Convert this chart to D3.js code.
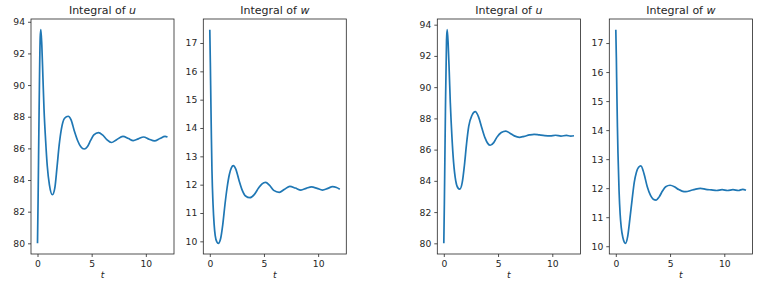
<!DOCTYPE html>
<html>
<head>
<meta charset="utf-8">
<script src="https://cdn.jsdelivr.net/npm/d3@7"></script>
<style>
  html, body { margin: 0; padding: 0; background: #fff; }
  svg { display: block; }
  text { font-family: "DejaVu Sans", sans-serif; fill: #262626; }
</style>
</head>
<body>
<svg id="chart" width="761" height="283"></svg>
<script>
// ---- Data ----
const tU1 = [0, 0.05, 0.15, 0.25, 0.31, 0.4, 0.5, 0.6, 0.75, 0.9, 1.1, 1.38, 1.6, 1.8, 2.0, 2.2, 2.5, 2.83, 3.1, 3.4, 3.7, 4.0, 4.31, 4.6, 4.9, 5.2, 5.63, 6.0, 6.4, 6.82, 7.3, 7.89, 8.4, 8.84, 9.3, 9.79, 10.3, 10.8, 11.3, 11.77, 12.0];
const u1  = [80, 82.5, 88.5, 93.0, 93.5, 92.5, 90.5, 88.5, 86.5, 84.9, 83.7, 83.07, 83.5, 84.8, 86.2, 87.2, 87.9, 88.03, 87.8, 87.1, 86.5, 86.1, 85.96, 86.1, 86.5, 86.85, 87.0, 86.85, 86.55, 86.37, 86.55, 86.76, 86.62, 86.49, 86.6, 86.72, 86.58, 86.47, 86.62, 86.76, 86.72];

const tW1 = [0, 0.05, 0.1, 0.15, 0.2, 0.3, 0.4, 0.5, 0.65, 0.79, 1.0, 1.2, 1.4, 1.6, 1.8, 2.0, 2.17, 2.4, 2.7, 3.0, 3.3, 3.71, 4.1, 4.5, 4.8, 5.16, 5.5, 5.9, 6.41, 6.9, 7.39, 7.9, 8.41, 8.9, 9.39, 9.9, 10.4, 10.9, 11.33, 11.7, 12.0];
const w1  = [17.47, 16.3, 14.9, 13.6, 12.5, 11.3, 10.6, 10.2, 9.98, 9.93, 10.1, 10.6, 11.3, 11.9, 12.35, 12.6, 12.67, 12.55, 12.15, 11.8, 11.6, 11.54, 11.65, 11.88, 12.02, 12.08, 11.98, 11.8, 11.73, 11.84, 11.94, 11.88, 11.81, 11.87, 11.92, 11.87, 11.81, 11.87, 11.93, 11.9, 11.84];

const tU2 = [0, 0.05, 0.15, 0.25, 0.31, 0.4, 0.5, 0.6, 0.75, 0.9, 1.1, 1.3, 1.47, 1.7, 1.9, 2.1, 2.3, 2.6, 2.9, 3.2, 3.5, 3.8, 4.05, 4.28, 4.6, 4.9, 5.3, 5.72, 6.1, 6.5, 6.97, 7.4, 7.9, 8.32, 8.8, 9.3, 9.8, 10.3, 10.8, 11.3, 11.7, 12.0];
const u2  = [80, 82.5, 88.5, 93.0, 93.68, 92.8, 91.0, 89.0, 86.8, 85.2, 84.0, 83.55, 83.47, 83.9, 85.0, 86.4, 87.5, 88.2, 88.43, 88.1, 87.4, 86.75, 86.4, 86.28, 86.45, 86.8, 87.1, 87.19, 87.05, 86.88, 86.79, 86.85, 86.94, 86.98, 86.94, 86.9, 86.88, 86.92, 86.87, 86.91, 86.87, 86.89];

const tW2 = [0, 0.05, 0.1, 0.15, 0.2, 0.3, 0.4, 0.5, 0.65, 0.89, 1.1, 1.3, 1.5, 1.7, 1.9, 2.1, 2.31, 2.6, 2.9, 3.2, 3.45, 3.72, 4.0, 4.3, 4.6, 5.0, 5.4, 5.8, 6.1, 6.46, 6.9, 7.3, 7.8, 8.3, 8.8, 9.3, 9.8, 10.3, 10.8, 11.3, 11.7, 12.0];
const w2  = [17.46, 16.5, 15.2, 14.1, 13.2, 11.9, 11.1, 10.65, 10.3, 10.1, 10.35, 10.95, 11.6, 12.2, 12.55, 12.72, 12.77, 12.5, 12.05, 11.75, 11.62, 11.59, 11.7, 11.9, 12.05, 12.1, 12.05, 11.95, 11.9, 11.88, 11.92, 11.96, 11.99, 11.96, 11.94, 11.92, 11.95, 11.92, 11.95, 11.92, 11.96, 11.93];

const xTicks = [0, 5, 10];
const uTicks = [80, 82, 84, 86, 88, 90, 92, 94];
const wTicks = [10, 11, 12, 13, 14, 15, 16, 17];
const titleVar = ["u", "w", "u", "w"];

// ---- Layout ----
const panels = [
  { t: tU1, v: u1, ticks: uTicks, x0: 31,    x1: 174 },
  { t: tW1, v: w1, ticks: wTicks, x0: 203.3, x1: 346.3 },
  { t: tU2, v: u2, ticks: uTicks, x0: 437.3, x1: 580.5 },
  { t: tW2, v: w2, ticks: wTicks, x0: 609.3, x1: 752.5 }
];
const plotTop = 19, plotBottom = 254;
const svg = d3.select("#chart");

panels.forEach((p, i) => {
  const tx = d3.extent(p.t), vy = d3.extent(p.v);
  const px = (tx[1] - tx[0]) * 0.05, py = (vy[1] - vy[0]) * 0.05;
  const x = d3.scaleLinear().domain([tx[0] - px, tx[1] + px]).range([p.x0, p.x1]);
  const y = d3.scaleLinear().domain([vy[0] - py, vy[1] + py]).range([plotBottom, plotTop]);

  const g = svg.append("g");

  const line = d3.line()
    .x((d, k) => x(p.t[k]))
    .y(d => y(d))
    .curve(d3.curveMonotoneX);
  g.append("path")
    .attr("d", line(p.v))
    .attr("fill", "none")
    .attr("stroke", "#1f77b4")
    .attr("stroke-width", 1.7)
    .attr("stroke-linejoin", "round");

  const xAxis = d3.axisBottom(x).tickValues(xTicks).tickSize(3).tickPadding(3).tickFormat(d3.format("d"));
  const yAxis = d3.axisLeft(y).tickValues(p.ticks).tickSize(3).tickPadding(3).tickFormat(d3.format("d"));

  const gx = g.append("g").attr("transform", `translate(0,${plotBottom})`).call(xAxis);
  const gy = g.append("g").attr("transform", `translate(${p.x0},0)`).call(yAxis);
  [gx, gy].forEach(a => {
    a.select(".domain").remove();
    a.selectAll(".tick line").attr("stroke", "#262626").attr("stroke-width", 0.8);
    a.selectAll(".tick text").attr("font-size", "9.2px").attr("fill", "#262626")
      .style("font-family", "'DejaVu Sans', sans-serif");
  });

  g.append("rect")
    .attr("x", p.x0).attr("y", plotTop)
    .attr("width", p.x1 - p.x0).attr("height", plotBottom - plotTop)
    .attr("fill", "none").attr("stroke", "#262626").attr("stroke-width", 0.8);

  const title = g.append("text")
    .attr("x", (p.x0 + p.x1) / 2).attr("y", 14)
    .attr("text-anchor", "middle").attr("font-size", "11px");
  title.append("tspan").text("Integral of ");
  title.append("tspan").attr("font-style", "italic").text(titleVar[i]);

  g.append("text")
    .attr("x", (p.x0 + p.x1) / 2).attr("y", 278)
    .attr("text-anchor", "middle").attr("font-size", "9.2px")
    .attr("font-style", "italic").text("t");
});
</script>
</body>
</html>
